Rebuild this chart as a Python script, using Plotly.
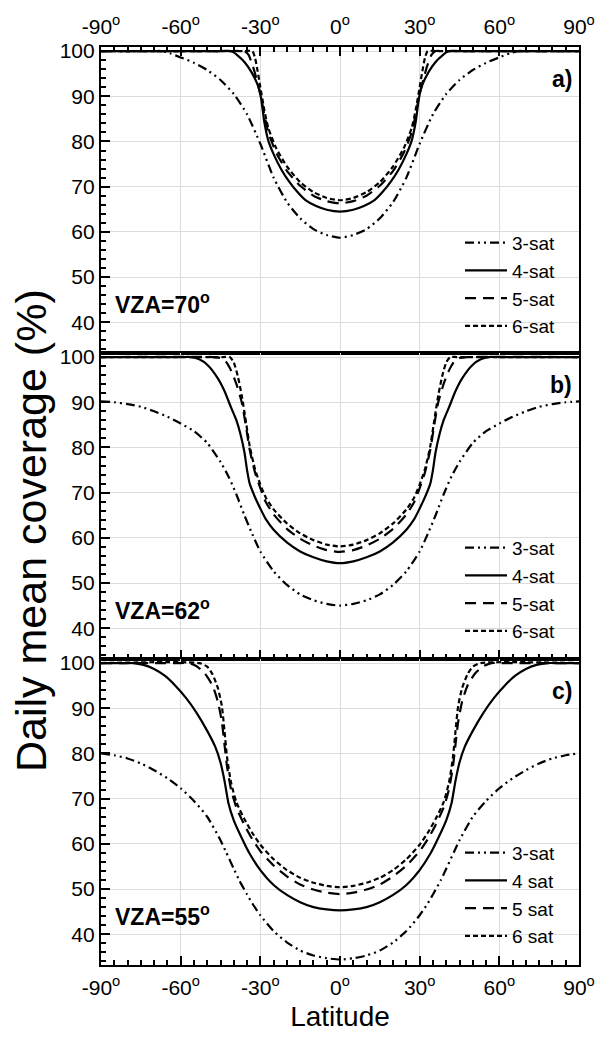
import plotly.graph_objects as go
from plotly.subplots import make_subplots

# Daily mean coverage (%) versus latitude, for constellations of 3–6 satellites.
# Each profile is symmetric about the equator: knots are listed for latitude >= 0.

# Panel a) VZA = 70°
a3_lat = [0, 5, 10, 15, 20, 25, 30, 35, 40, 45, 50, 55, 60, 64, 67, 70, 90]
a3_cov = [58.7, 59.3, 60.6, 63.0, 66.6, 72.0, 79.5, 86.0, 90.5, 93.6, 95.8, 97.4, 98.6, 99.5, 100, 100, 100]
a4_lat = [0, 5, 9, 13, 16, 19, 22, 25, 27, 28.5, 29.7, 31, 33.5, 36, 38.5, 41, 45, 90]
a4_cov = [64.5, 64.9, 65.7, 67.0, 68.8, 71.0, 73.7, 77.2, 80.2, 84.3, 89.5, 92.5, 95.5, 97.6, 99.0, 100, 100, 100]
a5_lat = [0, 5, 10, 15, 20, 24, 27, 28.5, 30, 31.5, 33, 34.5, 36, 40, 90]
a5_cov = [66.3, 66.8, 68.0, 70.2, 73.5, 77.5, 82.0, 86.0, 90.5, 94.0, 97.0, 99.2, 100, 100, 100]
a6_lat = [0, 5, 10, 15, 20, 24, 27, 28.5, 30, 31, 32, 33, 36, 90]
a6_cov = [67.0, 67.5, 68.8, 71.0, 74.5, 78.5, 83.0, 87.0, 92.0, 95.5, 98.5, 100, 100, 100]

# Panel b) VZA = 62°
b3_lat = [0, 5, 10, 15, 20, 25, 30, 33, 36, 39, 42, 45, 50, 55, 60, 65, 70, 75, 80, 85, 90]
b3_cov = [45.0, 45.4, 46.2, 47.5, 49.6, 52.6, 57.0, 60.8, 65.0, 69.6, 73.6, 76.8, 81.0, 83.6, 85.3, 86.8, 88.0, 89.0, 89.6, 90.0, 90.2]
b4_lat = [0, 5, 10, 15, 20, 25, 28, 30, 32, 34, 35, 36, 37.5, 39, 41, 43.5, 46, 50, 53, 56, 60, 90]
b4_cov = [54.4, 54.8, 55.7, 57.0, 59.0, 61.8, 64.2, 66.5, 69.0, 72.0, 75.0, 79.0, 83.0, 86.0, 88.8, 92.5, 95.3, 98.3, 99.5, 100, 100, 100]
b5_lat = [0, 5, 10, 15, 20, 25, 28, 30, 32, 34, 35.5, 37, 39, 41, 43, 45, 48, 90]
b5_cov = [56.9, 57.3, 58.3, 59.8, 62.0, 65.2, 68.0, 71.0, 74.5, 79.5, 85.0, 90.0, 94.0, 97.0, 99.0, 99.8, 100, 100]
b6_lat = [0, 5, 10, 15, 20, 25, 28, 30, 32, 34, 35.5, 37, 38.5, 40, 41.5, 44, 90]
b6_cov = [58.1, 58.5, 59.5, 61.0, 63.2, 66.3, 69.0, 71.8, 75.2, 80.3, 86.0, 91.5, 95.8, 98.8, 100, 100, 100]

# Panel c) VZA = 55°
c3_lat = [0, 5, 10, 15, 20, 25, 30, 33, 35, 38, 40, 43, 45, 50, 55, 60, 65, 70, 75, 80, 85, 90]
c3_cov = [34.4, 34.7, 35.3, 36.4, 38.2, 40.7, 44.2, 46.8, 48.8, 52.0, 54.5, 58.3, 60.8, 66.0, 69.5, 72.3, 74.5, 76.3, 77.8, 78.9, 79.6, 80.0]
c4_lat = [0, 5, 10, 15, 20, 25, 30, 34, 37, 40, 42, 43.5, 45, 47, 50, 54, 58, 62, 66, 70, 74, 78, 82, 90]
c4_cov = [45.3, 45.5, 46.0, 47.1, 48.7, 50.9, 54.2, 57.8, 61.3, 65.2, 69.0, 74.0, 78.0, 81.5, 85.0, 89.0, 92.3, 95.0, 97.2, 98.7, 99.6, 100, 100, 100]
c5_lat = [0, 5, 10, 15, 20, 25, 30, 33, 36, 39, 41, 42.5, 43.5, 44.5, 46, 48, 51, 54, 57, 60, 90]
c5_cov = [48.9, 49.2, 49.9, 51.0, 52.8, 55.2, 58.4, 61.0, 64.2, 68.0, 72.0, 77.0, 82.0, 87.0, 91.5, 95.0, 97.8, 99.3, 100, 100, 100]
c6_lat = [0, 5, 10, 15, 20, 25, 30, 33, 36, 39, 41, 42.5, 43.5, 44.5, 46, 48, 50, 53, 90]
c6_cov = [50.4, 50.7, 51.4, 52.5, 54.2, 56.6, 59.8, 62.4, 65.5, 69.2, 73.5, 79.0, 85.0, 90.5, 94.5, 97.5, 99.2, 100, 100]

panel_labels = ["a)", "b)", "c)"]
vza_labels = ["VZA=70<sup>o</sup>", "VZA=62<sup>o</sup>", "VZA=55<sup>o</sup>"]
legend_names = [
    ["3-sat", "4-sat", "5-sat", "6-sat"],
    ["3-sat", "4-sat", "5-sat", "6-sat"],
    ["3-sat", "4 sat", "5 sat", "6 sat"],
]
lat_ticks = [-90, -60, -30, 0, 30, 60, 90]
lat_ticktext = [f"{v}<sup>o</sup>" for v in lat_ticks]
cov_ticks = [40, 50, 60, 70, 80, 90, 100]
LAT_RANGE = [-90, 90]
COV_RANGE = [33.2, 100.9]

panels = [
    [(a3_lat, a3_cov), (a4_lat, a4_cov), (a5_lat, a5_cov), (a6_lat, a6_cov)],
    [(b3_lat, b3_cov), (b4_lat, b4_cov), (b5_lat, b5_cov), (b6_lat, b6_cov)],
    [(c3_lat, c3_cov), (c4_lat, c4_cov), (c5_lat, c5_cov), (c6_lat, c6_cov)],
]

dashes = ["9px,4px,2px,4px,2px,4px", "solid", "11px,7px", "5px,3px"]

FONT = "Liberation Sans, Arial, sans-serif"
W, H = 607, 1039
ML, MR, MT, MB = 101, 20, 41, 74
PW, PH = W - ML - MR, H - MT - MB


def px_x(p):
    return (p - ML) / PW


def px_y(p):
    return (H - MB - p) / PH


def mirror(lat, cov):
    # full profile from -90° to 90°
    xs = [-v for v in lat[::-1]] + lat[1:]
    ys = cov[::-1] + cov[1:]
    return xs, ys


fig = make_subplots(rows=3, cols=1, vertical_spacing=0)

legend_keys = ["legend", "legend2", "legend3"]
for r, curves in enumerate(panels):
    for k, (lat, cov) in enumerate(curves):
        xs, ys = mirror(lat, cov)
        fig.add_trace(
            go.Scatter(
                x=xs, y=ys, mode="lines",
                name=legend_names[r][k],
                line=dict(color="black", width=2.2, dash=dashes[k],
                          shape="spline", smoothing=0.6),
                legend=legend_keys[r],
                showlegend=True,
            ),
            row=r + 1, col=1,
        )

tick_style = dict(
    ticks="inside", ticklen=9, tickwidth=2, tickcolor="black",
    tickfont=dict(family=FONT, size=21, color="black"),
)
x_minor = dict(dtick=5, tick0=0, ticks="inside", ticklen=5, tickwidth=1.5,
               tickcolor="black", showgrid=False)
y_minor = dict(dtick=2, tick0=0, ticks="inside", ticklen=5, tickwidth=1.5,
               tickcolor="black", showgrid=False)

for r in range(3):
    sx = "" if r == 0 else str(r + 1)
    fig.layout["xaxis" + sx].update(
        range=LAT_RANGE, tickmode="array", tickvals=lat_ticks, ticktext=lat_ticktext,
        minor=x_minor, showticklabels=(r != 1), ticklabelstandoff=3,
        side="top" if r == 0 else "bottom",
        showline=True, linecolor="black", linewidth=2.2, mirror=True,
        showgrid=True, gridcolor="#dcdcdc", gridwidth=1, zeroline=False,
        **tick_style,
    )
    fig.layout["yaxis" + sx].update(
        range=COV_RANGE, tickmode="array", tickvals=cov_ticks, minor=y_minor,
        showline=True, linecolor="black", linewidth=2.2, mirror=True,
        showgrid=True, gridcolor="#dcdcdc", gridwidth=1, zeroline=False,
        **tick_style,
    )
    # tick marks on the opposite frame edges
    ox, oy = str(r + 4), str(r + 4)
    fig.layout["xaxis" + ox] = dict(
        overlaying="x" + sx, anchor="y" + sx, side="bottom" if r == 0 else "top",
        range=LAT_RANGE, tickmode="array", tickvals=lat_ticks, minor=x_minor,
        showticklabels=False, showgrid=False, zeroline=False, showline=False,
        **tick_style,
    )
    fig.layout["yaxis" + oy] = dict(
        overlaying="y" + sx, anchor="x" + sx, side="right",
        range=COV_RANGE, tickmode="array", tickvals=cov_ticks, minor=y_minor,
        showticklabels=False, showgrid=False, zeroline=False, showline=False,
        **tick_style,
    )

fig.layout.xaxis3.title = dict(text="Latitude", font=dict(family=FONT, size=28, color="black"),
                               standoff=8)

# legends, one per panel
legend_top_px = [219, 526, 833]
for r, key in enumerate(legend_keys):
    fig.layout[key] = dict(
        x=px_x(466), y=px_y(legend_top_px[r]), xanchor="left", yanchor="top",
        bgcolor="rgba(0,0,0,0)", borderwidth=0,
        font=dict(family=FONT, size=19, color="black"),
        itemwidth=42, tracegroupgap=0,
    )

annotations = []
panel_top_px = [MT + i * PH / 3 for i in range(3)]
for r in range(3):
    top = panel_top_px[r]
    annotations.append(dict(
        text=f"<b>{panel_labels[r]}</b>", x=px_x(582), y=px_y(top + 32),
        xref="paper", yref="paper", xanchor="right", yanchor="middle",
        showarrow=False, font=dict(family=FONT, size=23, color="black"),
    ))
    annotations.append(dict(
        text=f"<b>{vza_labels[r]}</b>", x=px_x(113), y=px_y(top + 258),
        xref="paper", yref="paper", xanchor="left", yanchor="middle",
        showarrow=False, font=dict(family=FONT, size=23, color="black"),
    ))
annotations.append(dict(
    text="Daily mean coverage (%)", x=px_x(30), y=px_y(528), xref="paper", yref="paper",
    xanchor="center", yanchor="middle", textangle=-90, showarrow=False,
    font=dict(family=FONT, size=43, color="black"),
))

fig.update_layout(
    width=W, height=H,
    margin=dict(l=ML, r=MR, t=MT, b=MB),
    paper_bgcolor="white", plot_bgcolor="white",
    annotations=annotations,
    font=dict(family=FONT, color="black"),
)

fig.write_html("out.html")
